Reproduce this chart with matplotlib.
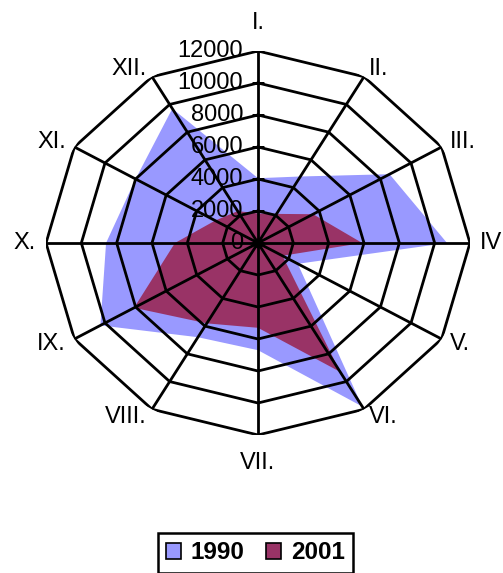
import numpy as np
import matplotlib
matplotlib.use("Agg")
import matplotlib.pyplot as plt
from matplotlib.patches import Patch

# months around the radar, clockwise from the top
months = ["I.", "II.", "III.", "IV", "V.", "VI.", "VII.", "VIII.", "IX.", "X.", "XI.", "XII."]
levels = [0, 2000, 4000, 6000, 8000, 10000, 12000]
years = ["1990", "2001"]
vals_1990 = [4050, 4800, 8600, 10700, 2600, 11800, 6700, 6800, 10300, 8600, 8000, 9700]
vals_2001 = [1850, 2100, 3600, 5900, 1600, 9300, 5300, 5800, 8100, 4700, 2800, 2300]

blue = "#9999FF"
maroon = "#993366"

plt.rcParams["font.family"] = ["Liberation Sans", "DejaVu Sans"]

angles = np.arange(len(months)) * 2 * np.pi / len(months)
closed = np.append(angles, angles[0])


def close(v):
    return np.append(v, v[0])


fig = plt.figure(figsize=(5.03, 5.73), dpi=100)
# polar axes stretched a bit wider than tall, like the old Excel radar
ax = fig.add_axes([46 / 503, 138 / 573, 424 / 503, 384 / 573], projection="polar")
ax.set_aspect("auto")
ax.set_theta_zero_location("N")
ax.set_theta_direction(-1)
ax.grid(False)
ax.set_xticks([])
ax.set_yticks([])
ax.spines["polar"].set_visible(False)
ax.patch.set_visible(False)

# the two filled series
ax.fill(closed, close(vals_1990), facecolor=blue, alpha=1, lw=0, zorder=1)
ax.fill(closed, close(vals_2001), facecolor=maroon, alpha=1, lw=0, zorder=2)

# polygon grid and spokes on top of the fills
for lev in levels[1:]:
    ax.plot(closed, [lev] * len(closed), color="black", lw=2, zorder=3)
for a in angles:
    ax.plot([a, a], [0, levels[-1]], color="black", lw=2, zorder=3)
ax.plot([0] * len(levels), levels, ls="none", marker="_", ms=9, mew=2, color="black", zorder=4)
ax.plot([0], [0], "o", color="black", ms=6, zorder=4)
ax.set_ylim(0, levels[-1])

# value labels along the top spoke
for lev in levels:
    ax.annotate(str(lev), xy=(0, lev), xytext=(-15, 0), textcoords="offset pixels",
                ha="right", va="center", fontsize=17, color="black",
                annotation_clip=False, zorder=5)

# month labels outside the frame
for a, name in zip(angles, months):
    m = np.pi / 2 - a
    c, s = np.cos(m), np.sin(m)
    if abs(c) < 0.01:
        ha, ox, oy = "center", 0, 28 * s
    else:
        ha = "left" if c > 0 else "right"
        ox, oy = 10 * c, 9 * s
    ax.annotate(name, xy=(a, levels[-1]), xytext=(ox, oy), textcoords="offset pixels",
                ha=ha, va="center", fontsize=17, color="black", annotation_clip=False)

handles = [Patch(facecolor=blue, edgecolor="black", lw=1.2),
           Patch(facecolor=maroon, edgecolor="black", lw=1.2)]
leg = fig.legend(handles, years, loc="center", bbox_to_anchor=(0.508, 0.035), ncol=2,
                 frameon=True, fancybox=False, edgecolor="black", framealpha=1,
                 handlelength=0.6, handleheight=0.6, handletextpad=0.4, columnspacing=0.9,
                 borderpad=0.35, prop={"weight": "bold", "size": 17.5})
leg.get_frame().set_linewidth(1.8)

fig.savefig("out.png", dpi=100)
